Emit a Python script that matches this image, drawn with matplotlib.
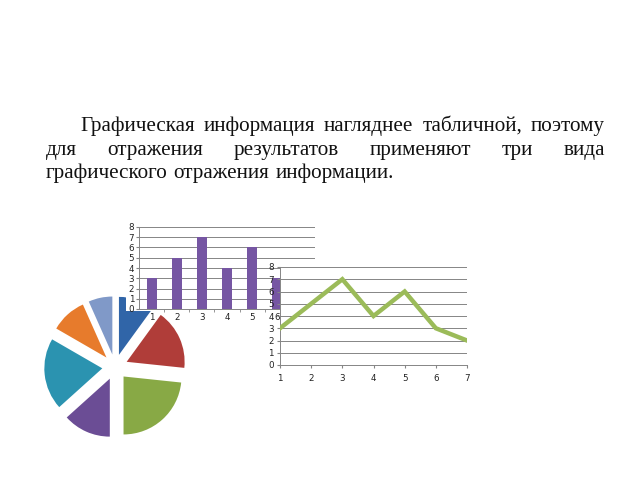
import matplotlib
matplotlib.use('Agg')
import matplotlib.pyplot as plt
from matplotlib.patches import Rectangle

# slide text, one list of words per line
text_lines = [
    ['Графическая', 'информация', 'нагляднее', 'табличной,', 'поэтому'],
    ['для', 'отражения', 'результатов', 'применяют', 'три', 'вида'],
    ['графического', 'отражения', 'информации.'],
]

categories = [1, 2, 3, 4, 5, 6, 7]
values = [3, 5, 7, 4, 6, 3, 2]
yticks = [0, 1, 2, 3, 4, 5, 6, 7, 8]

pie_colors = ['#3065a8', '#b03d39', '#88a945', '#6b4d95',
              '#2b93b0', '#e77b2c', '#8099c8']

W, H = 640, 480


def px(x, y, w, h):
    # pixel box (top-left origin) -> figure fraction
    return [x / W, 1 - (y + h) / H, w / W, h / H]


fig = plt.figure(figsize=(6.4, 4.8), dpi=100)
fig.patch.set_facecolor('white')

# --- justified paragraph ---
renderer = fig.canvas.get_renderer()
font = dict(family='Liberation Serif', size=15.2, color='#111111')
starts = [80, 46, 46]
right = 605
baselines = [131, 155, 178]
for i, words in enumerate(text_lines):
    widths = []
    for w in words:
        t = fig.text(0, 0, w, **font)
        widths.append(t.get_window_extent(renderer).width)
        t.remove()
    if i < len(text_lines) - 1:
        gap = (right - starts[i] - sum(widths)) / (len(words) - 1)
    else:
        gap = 6
    x = starts[i]
    for w, wd in zip(words, widths):
        fig.text(x / W, 1 - baselines[i] / H, w, ha='left', va='baseline', **font)
        x += wd + gap

grid_col = '#858585'
tick_font = 6.3

# --- exploded pie (bottom layer) ---
ax_pie = fig.add_axes(px(35, 287, 160, 160), zorder=1)
ax_pie.pie(values, colors=pie_colors, startangle=90, counterclock=False,
           explode=[0.22] * len(values), radius=1,
           wedgeprops=dict(linewidth=0))
ax_pie.set_xlim(-1.38, 1.38)
ax_pie.set_ylim(-1.38, 1.38)
ax_pie.set_aspect('equal')
ax_pie.axis('off')

# white chart area behind the bar chart
fig.add_artist(Rectangle((126 / W, 1 - 311 / H), (318 - 126) / W, (311 - 220) / H,
                         transform=fig.transFigure, facecolor='white',
                         edgecolor='none', zorder=1.5))

# --- bar chart ---
ax_bar = fig.add_axes(px(139, 227, 176, 82), zorder=2)
ax_bar.bar(categories, values, width=0.4, color='#7656a3', zorder=3)
ax_bar.set_xlim(0.5, 7.5)
ax_bar.set_ylim(0, 8)
ax_bar.set_yticks(yticks)
ax_bar.set_xticks(categories)
ax_bar.set_xticks([c + 0.5 for c in categories[:-1]], minor=True)
ax_bar.grid(axis='y', color=grid_col, lw=0.7)
ax_bar.set_axisbelow(True)
for s in ['top', 'right']:
    ax_bar.spines[s].set_visible(False)
for s in ['left', 'bottom']:
    ax_bar.spines[s].set_color(grid_col)
    ax_bar.spines[s].set_linewidth(0.7)
ax_bar.tick_params(axis='both', labelsize=tick_font, colors='#222222', pad=1)
ax_bar.tick_params(axis='x', which='major', length=0, pad=3)
ax_bar.tick_params(axis='x', which='minor', length=2.5, color=grid_col)
ax_bar.tick_params(axis='y', length=2.5, color=grid_col)

# --- line chart ---
ax_line = fig.add_axes(px(280, 267, 187, 98), zorder=3)
ax_line.set_facecolor('white')
ax_line.plot(categories, values, color='#9bbb59', lw=3.2, zorder=3,
             solid_joinstyle='miter')
ax_line.set_xlim(1, 7)
ax_line.set_ylim(0, 8)
ax_line.set_yticks(yticks)
ax_line.set_xticks(categories)
ax_line.grid(axis='y', color=grid_col, lw=0.7)
ax_line.set_axisbelow(True)
for s in ['top', 'right']:
    ax_line.spines[s].set_visible(False)
for s in ['left', 'bottom']:
    ax_line.spines[s].set_color(grid_col)
    ax_line.spines[s].set_linewidth(0.7)
ax_line.tick_params(axis='both', labelsize=tick_font, colors='#222222',
                    length=2.5, pad=2)
ax_line.tick_params(axis='x', pad=4)
ax_line.tick_params(axis='both', color=grid_col)

fig.savefig('out.png', dpi=100)
